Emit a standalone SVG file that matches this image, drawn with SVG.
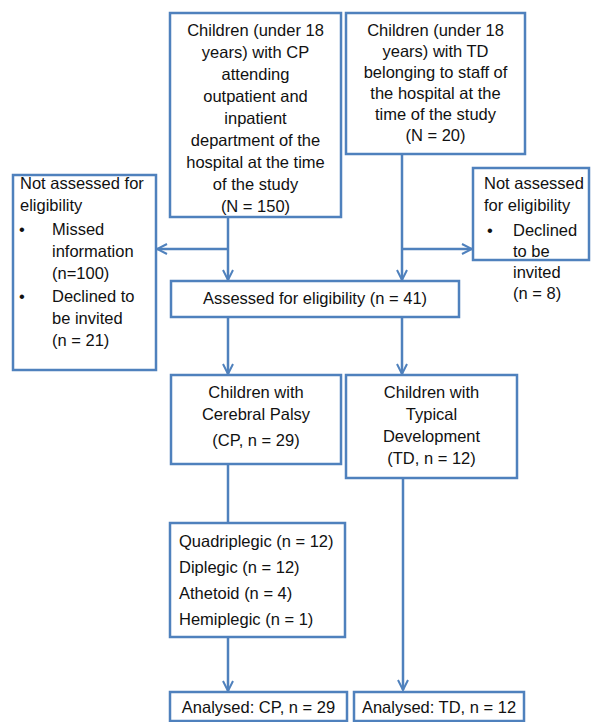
<svg xmlns="http://www.w3.org/2000/svg" width="601" height="722" viewBox="0 0 601 722">
<style>
.box{fill:#fff;stroke:#4f81bd;stroke-width:2.5}
.t{font-family:"Liberation Sans",Arial,sans-serif;font-size:16.5px;fill:#111}
.c{text-anchor:middle}
.ln{stroke:#4f81bd;stroke-width:2.5;fill:none}
</style>
<defs>
<marker id="ah" viewBox="0 0 10 10" refX="9" refY="5" markerWidth="5" markerHeight="5" orient="auto" markerUnits="strokeWidth">
<polyline points="1,1 9,5 1,9" fill="none" stroke="#4f81bd" stroke-width="1.6"/>
</marker>
</defs>
<g id="connectors">
<line class="ln" x1="228" y1="217" x2="228" y2="280" marker-end="url(#ah)"/>
<line class="ln" x1="228" y1="249" x2="157" y2="249" marker-end="url(#ah)"/>
<line class="ln" x1="402" y1="154" x2="402" y2="280" marker-end="url(#ah)"/>
<line class="ln" x1="402" y1="249" x2="472" y2="249" marker-end="url(#ah)"/>
<line class="ln" x1="228" y1="317" x2="228" y2="374" marker-end="url(#ah)"/>
<line class="ln" x1="402" y1="317" x2="402" y2="374" marker-end="url(#ah)"/>
<line class="ln" x1="228" y1="464" x2="228" y2="523"/>
<line class="ln" x1="228" y1="637" x2="228" y2="691" marker-end="url(#ah)"/>
<line class="ln" x1="403" y1="478" x2="403" y2="690" marker-end="url(#ah)"/>
</g>
<g id="cp-source">
<rect class="box" x="170" y="13" width="171" height="204"/>
<text class="t c" x="255.5" y="36">Children (under 18</text>
<text class="t c" x="255.5" y="58">years) with CP</text>
<text class="t c" x="255.5" y="80">attending</text>
<text class="t c" x="255.5" y="102">outpatient and</text>
<text class="t c" x="255.5" y="124">inpatient</text>
<text class="t c" x="255.5" y="146">department of the</text>
<text class="t c" x="255.5" y="168">hospital at the time</text>
<text class="t c" x="255.5" y="190">of the study</text>
<text class="t c" x="255.5" y="212">(N = 150)</text>
</g>
<g id="td-source">
<rect class="box" x="346" y="13" width="179" height="141"/>
<text class="t c" x="435.5" y="35.5">Children (under 18</text>
<text class="t c" x="435.5" y="56.5">years) with TD</text>
<text class="t c" x="435.5" y="77.5">belonging to staff of</text>
<text class="t c" x="435.5" y="98.5">the hospital at the</text>
<text class="t c" x="435.5" y="119.5">time of the study</text>
<text class="t c" x="435.5" y="140.5">(N = 20)</text>
</g>
<g id="excluded-cp">
<rect class="box" x="13" y="175" width="143" height="195"/>
<text class="t" x="20" y="189">Not assessed for</text>
<text class="t" x="20" y="211">eligibility</text>
<text class="t" x="19" y="235">•</text>
<text class="t" x="52" y="235">Missed</text>
<text class="t" x="52" y="257">information</text>
<text class="t" x="52" y="279">(n=100)</text>
<text class="t" x="19" y="302">•</text>
<text class="t" x="52" y="302">Declined to</text>
<text class="t" x="52" y="324">be invited</text>
<text class="t" x="52" y="346">(n = 21)</text>
</g>
<g id="excluded-td">
<rect class="box" x="473" y="168" width="116" height="92"/>
<text class="t" x="484" y="189">Not assessed</text>
<text class="t" x="484" y="211">for eligibility</text>
<text class="t" x="487" y="236">•</text>
<text class="t" x="513" y="236">Declined</text>
<text class="t" x="513" y="257">to be</text>
<text class="t" x="513" y="278">invited</text>
<text class="t" x="513" y="299">(n = 8)</text>
</g>
<g id="assessed">
<rect class="box" x="171" y="281" width="288" height="36"/>
<text class="t c" x="315" y="304">Assessed for eligibility (n = 41)</text>
</g>
<g id="cp-group">
<rect class="box" x="171" y="375" width="170" height="89"/>
<text class="t c" x="256" y="398">Children with</text>
<text class="t c" x="256" y="420">Cerebral Palsy</text>
<text class="t c" x="256" y="446">(CP, n = 29)</text>
</g>
<g id="td-group">
<rect class="box" x="346" y="375" width="171" height="103"/>
<text class="t c" x="431.5" y="398">Children with</text>
<text class="t c" x="431.5" y="420">Typical</text>
<text class="t c" x="431.5" y="442">Development</text>
<text class="t c" x="431.5" y="464">(TD, n = 12)</text>
</g>
<g id="cp-subtypes">
<rect class="box" x="170" y="523" width="175" height="114"/>
<text class="t" x="179" y="547">Quadriplegic (n = 12)</text>
<text class="t" x="179" y="573">Diplegic (n = 12)</text>
<text class="t" x="179" y="599">Athetoid (n = 4)</text>
<text class="t" x="179" y="625">Hemiplegic (n = 1)</text>
</g>
<g id="analysed-cp">
<rect class="box" x="170" y="692" width="177" height="29"/>
<text class="t c" x="258.5" y="713">Analysed: CP, n = 29</text>
</g>
<g id="analysed-td">
<rect class="box" x="354" y="692" width="170" height="29"/>
<text class="t c" x="439" y="713">Analysed: TD, n = 12</text>
</g>
</svg>
